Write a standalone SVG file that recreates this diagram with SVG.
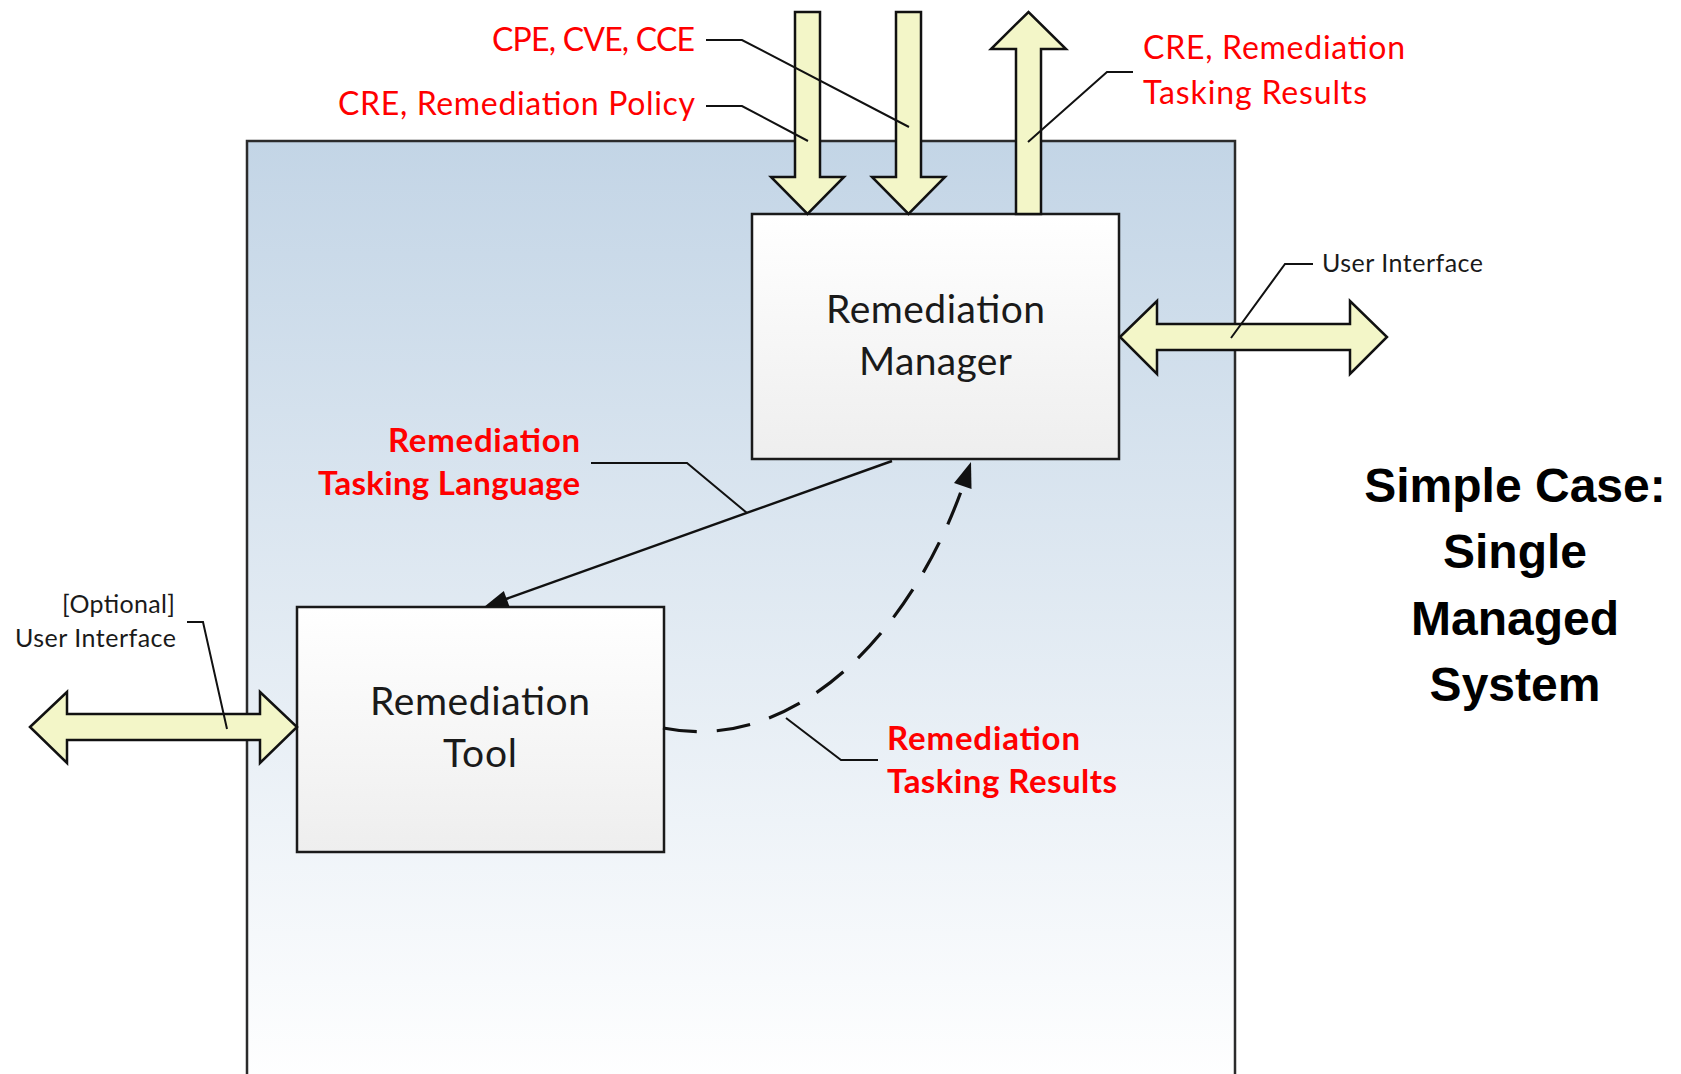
<svg xmlns="http://www.w3.org/2000/svg" width="1681" height="1074" viewBox="0 0 1681 1074">
  <defs>
    <linearGradient id="sysFill" x1="0" y1="0" x2="0" y2="1">
      <stop offset="0" stop-color="#c3d5e6"/>
      <stop offset="1" stop-color="#ffffff"/>
    </linearGradient>
    <linearGradient id="boxFill" x1="0" y1="0" x2="0" y2="1">
      <stop offset="0" stop-color="#ffffff"/>
      <stop offset="1" stop-color="#eeeeee"/>
    </linearGradient>
    <style>
      .sys { fill: url(#sysFill); stroke: #2b2b2b; stroke-width: 2.5; }
      .box { fill: url(#boxFill); stroke: #1a1a1a; stroke-width: 2.5; }
      .block { fill: #f3f6c8; stroke: #111; stroke-width: 2.5; stroke-linejoin: miter; }
      .leader { fill: none; stroke: #111; stroke-width: 2; }
      .flow { fill: none; stroke: #111; stroke-width: 2.5; }
      .dash { fill: none; stroke: #111; stroke-width: 3.2; stroke-dasharray: 34 20; }
      .head { fill: #111; stroke: none; }
      .node-text { font-family: Lato, "Liberation Sans", sans-serif; font-size: 39px; fill: #1a1a1a; text-anchor: middle; }
      .red { font-family: Lato, "Liberation Sans", sans-serif; font-size: 32px; fill: #ff0000; }
      .red-bold { font-family: Lato, "Liberation Sans", sans-serif; font-size: 33px; font-weight: bold; fill: #ff0000; }
      .ui { font-family: Lato, "Liberation Sans", sans-serif; font-size: 25px; fill: #1a1a1a; }
      .title { font-family: "Liberation Sans", Arial, sans-serif; font-size: 48px; font-weight: bold; fill: #000; text-anchor: middle; }
    </style>
  </defs>

  <rect width="1681" height="1074" fill="#ffffff"/>

  <!-- managed system boundary -->
  <g id="managed-system">
    <rect class="sys" x="247" y="141" width="988" height="950"/>
  </g>

  <!-- nodes -->
  <g id="remediation-manager">
    <rect class="box" x="752" y="214" width="367" height="245"/>
    <text class="node-text" x="935.5" y="323" textLength="219">Remediation</text>
    <text class="node-text" x="935.5" y="375" textLength="153">Manager</text>
  </g>

  <g id="remediation-tool">
    <rect class="box" x="297" y="607" width="367" height="245"/>
    <text class="node-text" x="480" y="715" textLength="220">Remediation</text>
    <text class="node-text" x="480" y="767" textLength="74">Tool</text>
  </g>

  <!-- external interface arrows -->
  <g id="interfaces">
    <polygon class="block" points="795,12 820,12 820,177 844,177 807.5,214 771,177 795,177"/>
    <polygon class="block" points="896,12 921,12 921,177 945,177 908.5,214 872,177 896,177"/>
    <polygon class="block" points="1016,214 1041,214 1041,49 1066,49 1028.5,12 991,49 1016,49"/>
    <polygon class="block" points="1120,337 1157,301 1157,324 1350,324 1350,301 1387,337 1350,374 1350,350 1157,350 1157,374"/>
    <polygon class="block" points="30,727 67,692 67,714 260,714 260,692 297,727 260,763 260,740 67,740 67,763"/>
  </g>

  <!-- connectors between nodes -->
  <g id="connectors">
    <line class="flow" x1="892" y1="461" x2="506" y2="599"/>
    <polygon class="head" points="484,607 509.5,606.6 503.8,591"/>
    <path class="dash" d="M663,728 C793,754 910,636 963,486"/>
    <polygon class="head" points="971,462 971.5,489 954,483"/>
  </g>

  <!-- label leader lines -->
  <g id="leaders">
    <polyline class="leader" points="706,40 742,40 909,127"/>
    <polyline class="leader" points="706,106 742,106 808,141"/>
    <polyline class="leader" points="1133,72 1107,72 1028,142"/>
    <polyline class="leader" points="1313,264 1285,264 1231,338"/>
    <polyline class="leader" points="591,463 687,463 747,513"/>
    <polyline class="leader" points="878,760 841,760 786,718"/>
    <polyline class="leader" points="187,622 203,622 227,729"/>
  </g>

  <!-- labels -->
  <g id="labels">
    <text class="red" x="695" y="51" text-anchor="end" textLength="203">CPE, CVE, CCE</text>
    <text class="red" x="695" y="115" text-anchor="end" textLength="357">CRE, Remediation Policy</text>
    <text class="red" x="1143" y="59" textLength="262">CRE, Remediation</text>
    <text class="red" x="1143" y="104" textLength="224">Tasking Results</text>
    <text class="ui" x="1322" y="272" textLength="161">User Interface</text>
    <text class="ui" x="175" y="613" text-anchor="end" textLength="113">[Optional]</text>
    <text class="ui" x="176" y="647" text-anchor="end" textLength="161">User Interface</text>
    <text class="red-bold" x="580" y="452" text-anchor="end" textLength="192">Remediation</text>
    <text class="red-bold" x="580" y="495" text-anchor="end" textLength="262">Tasking Language</text>
    <text class="red-bold" x="887" y="750" textLength="193">Remediation</text>
    <text class="red-bold" x="887" y="793" textLength="230">Tasking Results</text>
  </g>

  <!-- caption -->
  <g id="caption">
    <text class="title" x="1515" y="502">Simple Case:</text>
    <text class="title" x="1515" y="568">Single</text>
    <text class="title" x="1515" y="635">Managed</text>
    <text class="title" x="1515" y="701">System</text>
  </g>
</svg>
